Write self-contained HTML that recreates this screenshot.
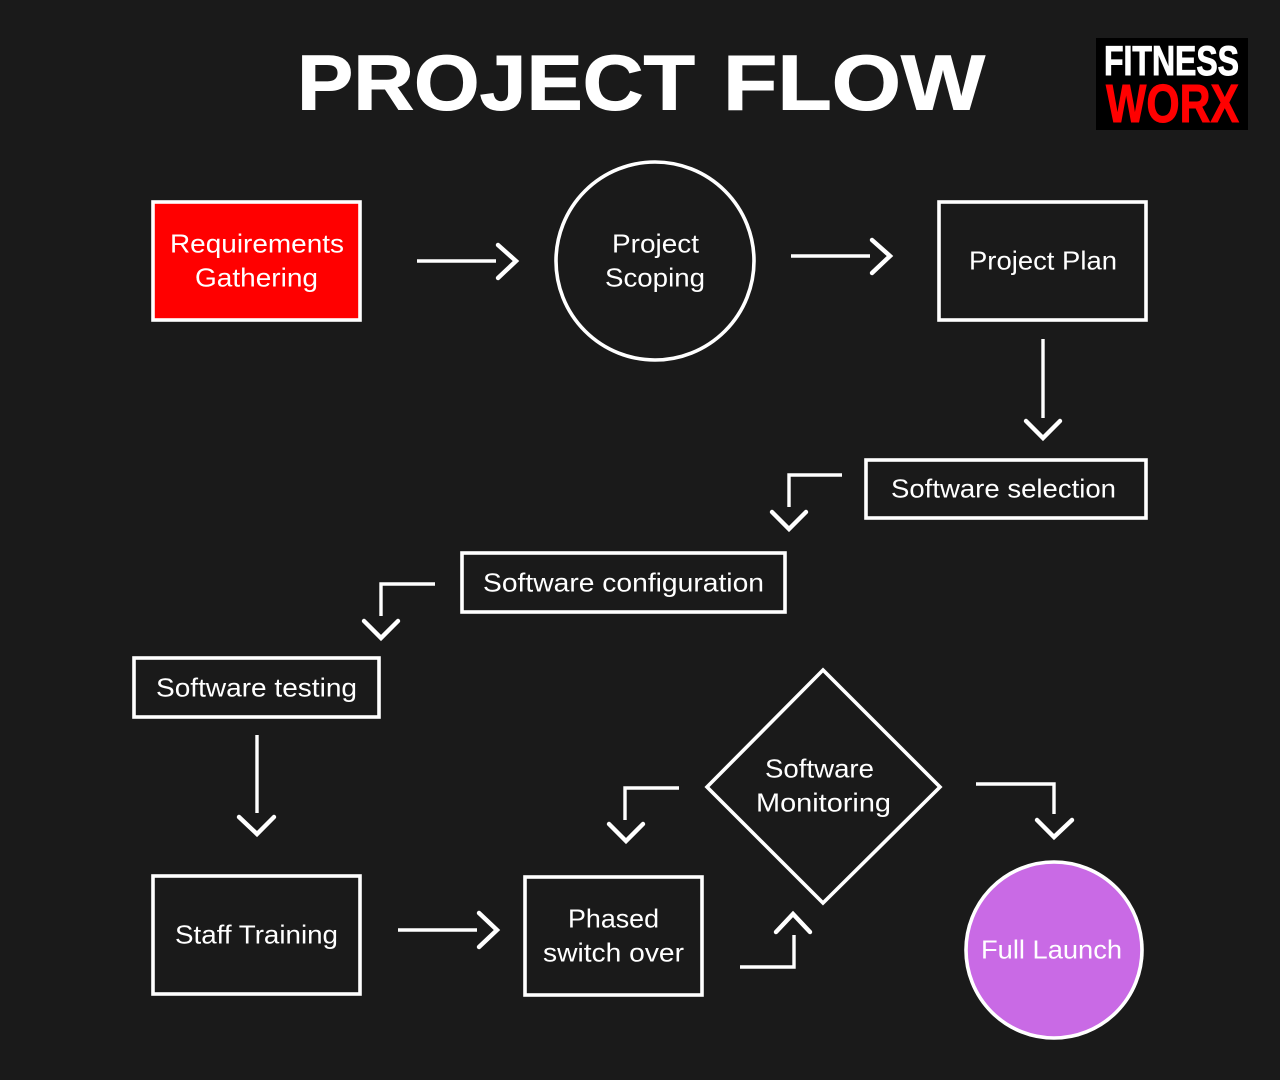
<!DOCTYPE html>
<html>
<head>
<meta charset="utf-8">
<style>
html,body{margin:0;padding:0;background:#1a1a1a;}
svg{display:block;}
text{font-family:"Liberation Sans",sans-serif;fill:#fff;}
.t{font-size:26px;}
.s{fill:none;stroke:#fff;stroke-width:3.6;}
.a{fill:none;stroke:#fff;stroke-width:4.4;stroke-linecap:round;stroke-linejoin:miter;}
.l{fill:none;stroke:#fff;stroke-width:3.4;stroke-linecap:butt;stroke-linejoin:miter;}
</style>
</head>
<body>
<svg width="1280" height="1080" viewBox="0 0 1280 1080" xmlns="http://www.w3.org/2000/svg">
<rect width="1280" height="1080" fill="#1a1a1a"/>
<text x="297" y="109.5" font-size="78" font-weight="700" textLength="398" lengthAdjust="spacingAndGlyphs" stroke="#fff" stroke-width="1">PROJECT</text>
<text x="723" y="109.5" font-size="78" font-weight="700" textLength="262" lengthAdjust="spacingAndGlyphs" stroke="#fff" stroke-width="1">FLOW</text>

<rect x="1096" y="38" width="152" height="92" fill="#000"/>
<text x="1104" y="75" font-size="42" font-weight="700" textLength="135" lengthAdjust="spacingAndGlyphs" stroke="#fff" stroke-width="1">FITNESS</text>
<text x="1106" y="122" font-size="54" font-weight="700" textLength="133" lengthAdjust="spacingAndGlyphs" style="fill:#f00" stroke="#f00" stroke-width="1">WORX</text>

<rect x="153" y="202" width="207" height="118" fill="#f00" stroke="#fff" stroke-width="3.6"/>
<text class="t" x="170" y="252.5" textLength="174" lengthAdjust="spacingAndGlyphs">Requirements</text>
<text class="t" x="195" y="286.5" textLength="123" lengthAdjust="spacingAndGlyphs">Gathering</text>

<circle class="s" cx="655" cy="261" r="99"/>
<text class="t" x="612" y="252.5" textLength="87" lengthAdjust="spacingAndGlyphs">Project</text>
<text class="t" x="605" y="286.5" textLength="100" lengthAdjust="spacingAndGlyphs">Scoping</text>

<rect class="s" x="939" y="202" width="207" height="118"/>
<text class="t" x="969" y="269.5" textLength="148" lengthAdjust="spacingAndGlyphs">Project Plan</text>

<rect class="s" x="866" y="460" width="280" height="58"/>
<text class="t" x="891" y="497.5" textLength="225" lengthAdjust="spacingAndGlyphs">Software selection</text>

<rect class="s" x="462" y="553" width="323" height="59"/>
<text class="t" x="483" y="591.5" textLength="281" lengthAdjust="spacingAndGlyphs">Software configuration</text>

<rect class="s" x="134" y="658" width="245" height="59"/>
<text class="t" x="156" y="696.5" textLength="201" lengthAdjust="spacingAndGlyphs">Software testing</text>

<polygon class="s" points="823,670 940,787 823,903 707,787"/>
<text class="t" x="765" y="777.5" textLength="109" lengthAdjust="spacingAndGlyphs">Software</text>
<text class="t" x="756" y="811.5" textLength="135" lengthAdjust="spacingAndGlyphs">Monitoring</text>

<rect class="s" x="153" y="876" width="207" height="118"/>
<text class="t" x="175" y="943.5" textLength="163" lengthAdjust="spacingAndGlyphs">Staff Training</text>

<rect class="s" x="525" y="877" width="177" height="118"/>
<text class="t" x="568" y="927.5" textLength="91" lengthAdjust="spacingAndGlyphs">Phased</text>
<text class="t" x="543" y="961.5" textLength="141" lengthAdjust="spacingAndGlyphs">switch over</text>

<circle cx="1054" cy="950" r="88" fill="#c96ae5" stroke="#fff" stroke-width="3.6"/>
<text class="t" x="981" y="958.5" textLength="141" lengthAdjust="spacingAndGlyphs">Full Launch</text>

<!-- arrows -->
<path class="l" d="M417 261H496"/><path class="a" d="M498 245L516 261L498 278"/>
<path class="l" d="M791 256H870"/><path class="a" d="M872 240L890 256L872 273"/>
<path class="l" d="M1043 339V418"/><path class="a" d="M1026 421L1043 438L1060 421"/>

<path class="l" d="M842 475H789V507"/><path class="a" d="M772 512L789 529L806 512"/>
<path class="l" d="M435 584H381V616"/><path class="a" d="M364 621L381 638L398 621"/>
<path class="l" d="M257 735V813"/><path class="a" d="M239 817L257 834L274 817"/>

<path class="l" d="M398 930H477"/><path class="a" d="M479 913L497 930L479 947"/>
<path class="l" d="M740 967H794V935"/><path class="a" d="M776 932L793 914L810 932"/>
<path class="l" d="M679 788H625V820"/><path class="a" d="M609 824L626 841L643 824"/>
<path class="l" d="M976 784H1054V814"/><path class="a" d="M1037 820L1054 837L1072 820"/>
</svg>
</body>
</html>
